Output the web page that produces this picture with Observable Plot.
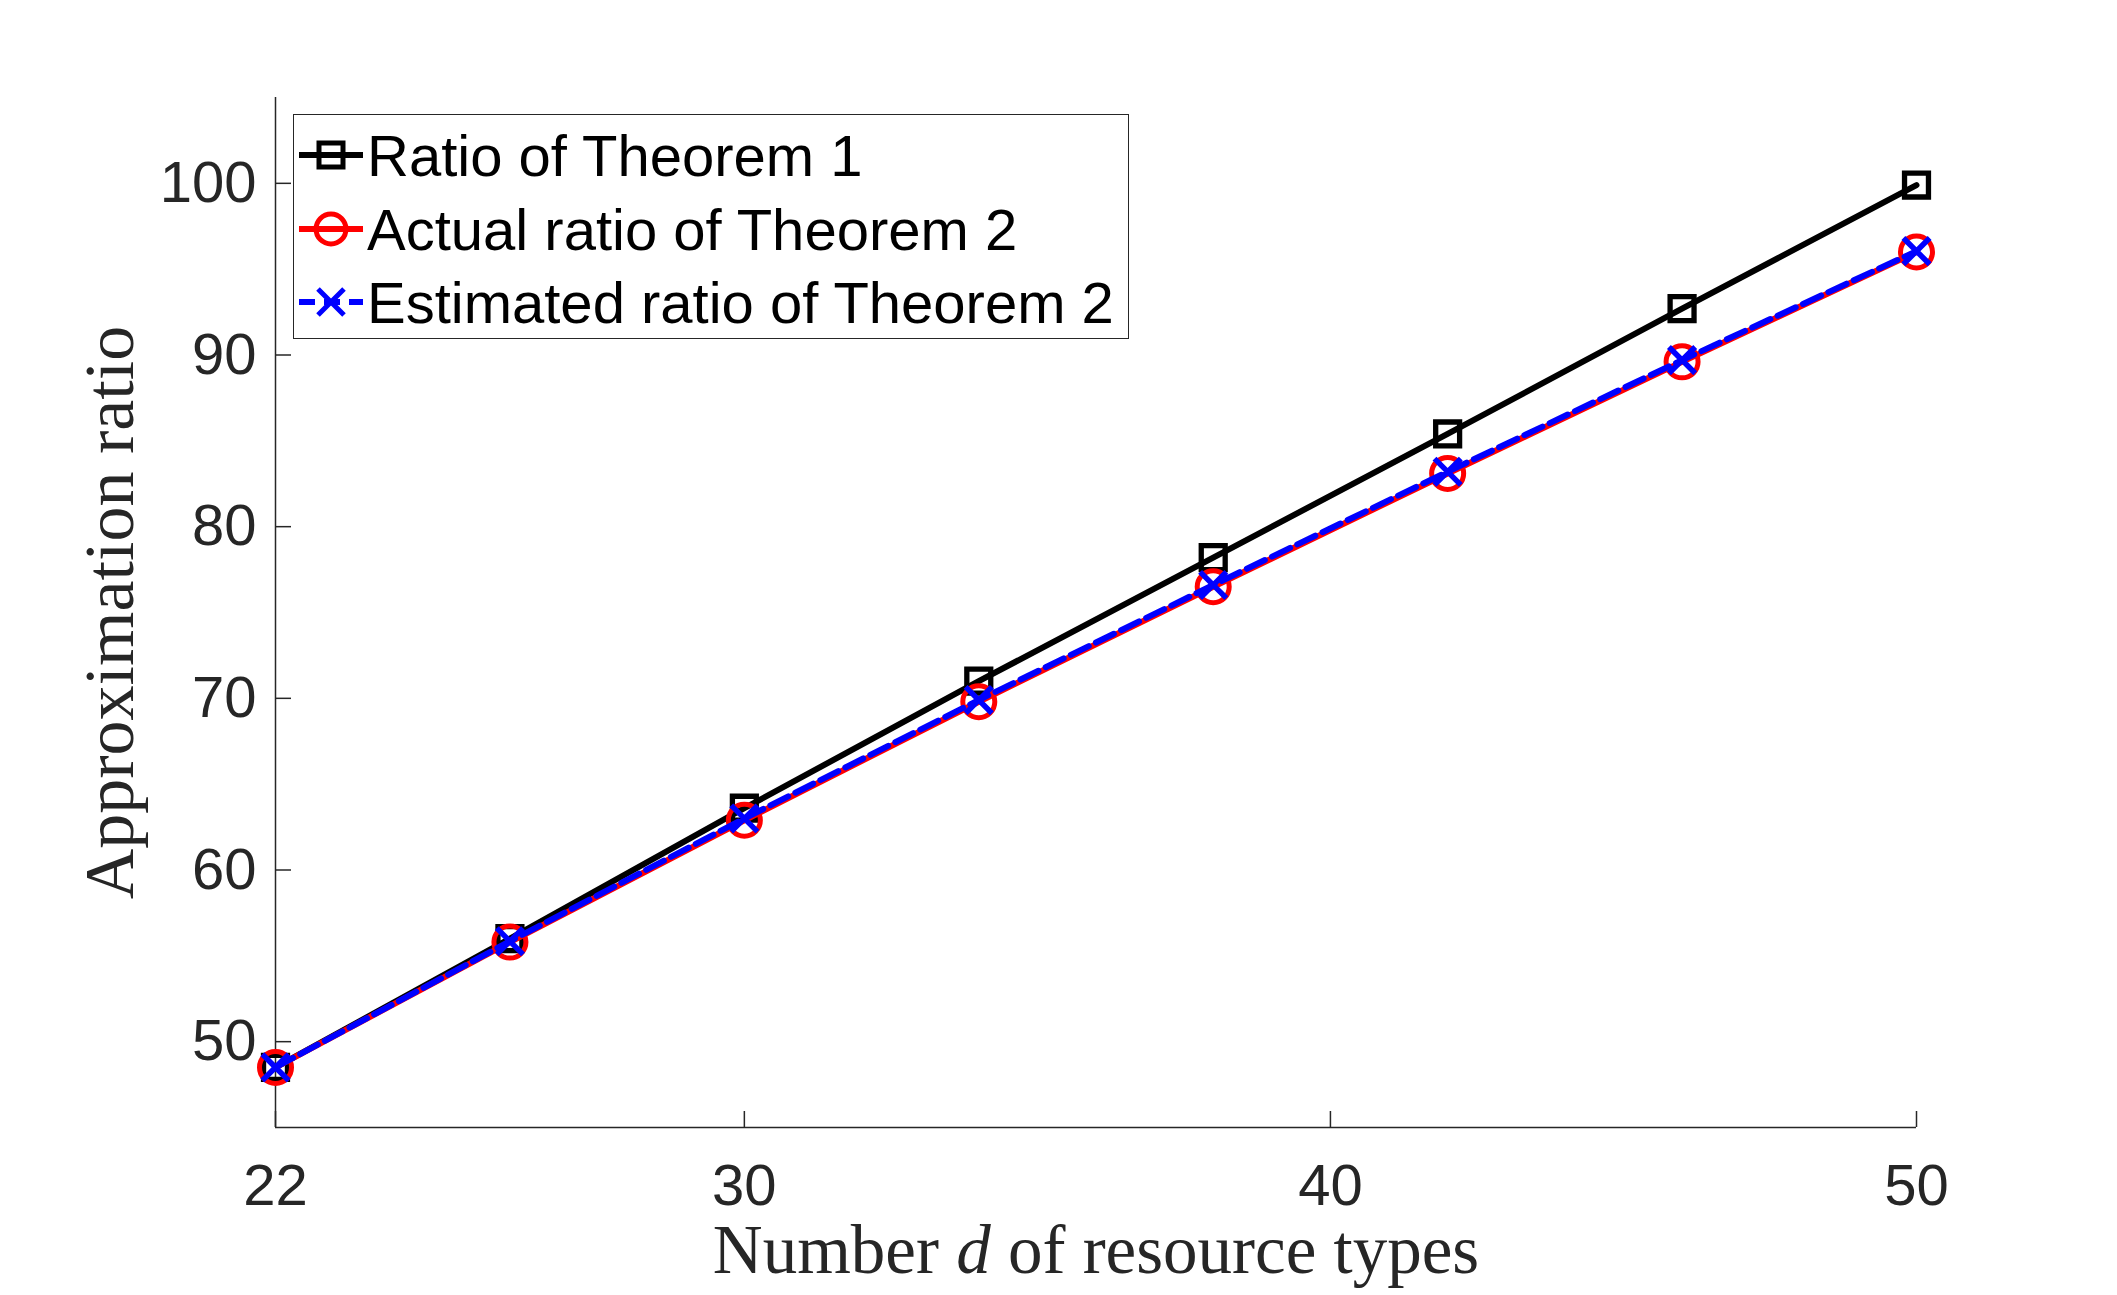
<!DOCTYPE html>
<html>
<head>
<meta charset="utf-8">
<script src="https://cdn.jsdelivr.net/npm/d3@7"></script>
<script src="https://cdn.jsdelivr.net/npm/@observablehq/plot@0.6"></script>
<style>
  html, body { margin: 0; padding: 0; background: #fff; }
  #wrap { position: relative; width: 2117px; height: 1295px; }
  #legend {
    position: absolute; left: 293px; top: 114px; width: 834px; height: 223px;
    border: 1.5px solid #262626; background: #fff; box-sizing: content-box;
    font-family: "Liberation Sans", Arial, sans-serif; font-size: 58px; color: #000;
  }
  .item { position: absolute; left: 5px; height: 60px; display: flex; align-items: center; white-space: nowrap; }
  .item svg { flex: none; margin-right: 4px; }
</style>
</head>
<body>
<div id="wrap"></div>
<script>
// ---- data ----
const d = [22, 26, 30, 34, 38, 42, 46, 50];
const ratioTheorem1 = [48.5, 56.0, 63.6, 71.0, 78.2, 85.4, 92.7, 99.9];
const actualTheorem2 = [48.5, 55.8, 62.9, 69.8, 76.5, 83.1, 89.6, 96.0];
const estimatedTheorem2 = [48.5, 55.85, 63.0, 69.9, 76.6, 83.2, 89.7, 96.05];
const seriesNames = ["Ratio of Theorem 1", "Actual ratio of Theorem 2", "Estimated ratio of Theorem 2"];
const seriesColors = ["#000000", "#ff0000", "#0000ff"];
const xTicks = [22, 30, 40, 50];
const yTicks = [50, 60, 70, 80, 90, 100];
const xDomain = [22, 50];
const yDomain = [45, 105];
const xLabel = "Number d of resource types";
const yLabel = "Approximation ratio";

const s1 = d.map((x, i) => ({x, y: ratioTheorem1[i]}));
const s2 = d.map((x, i) => ({x, y: actualTheorem2[i]}));
const s3 = d.map((x, i) => ({x, y: estimatedTheorem2[i]}));

const W = 2117, H = 1295, mL = 275, mR = 201, mT = 97, mB = 168;
const plotW = W - mL - mR, plotH = H - mT - mB;
const axisColor = "#262626";
const sans = "'Liberation Sans', Arial, sans-serif";
const serif = "'Liberation Serif', 'Times New Roman', serif";

const chart = Plot.plot({
  width: W, height: H,
  marginLeft: mL, marginRight: mR, marginTop: mT, marginBottom: mB,
  style: {fontFamily: sans, color: axisColor, background: "#fff"},
  x: {domain: xDomain},
  y: {domain: yDomain},
  marks: [
    Plot.ruleX([xDomain[0]], {stroke: axisColor, strokeWidth: 1.5}),
    Plot.ruleY([yDomain[0]], {stroke: axisColor, strokeWidth: 1.5}),
    Plot.tickX(xTicks, {x: v => v, stroke: axisColor, strokeWidth: 1.5, insetTop: plotH - 16}),
    Plot.tickY(yTicks, {y: v => v, stroke: axisColor, strokeWidth: 1.5, insetRight: plotW - 16}),
    Plot.axisX({ticks: xTicks, tickSize: 0, tickPadding: 36, fontSize: 58, label: null, tickFormat: v => String(v)}),
    Plot.axisY({ticks: yTicks, tickSize: 0, tickPadding: 19, fontSize: 58, label: null, tickFormat: v => String(v)}),
    Plot.text([xLabel], {text: v => v, frameAnchor: "bottom", dy: 145, lineAnchor: "bottom", textAnchor: "middle", fontSize: 69, fontFamily: serif, fill: axisColor}),
    Plot.text([yLabel], {text: v => v, frameAnchor: "left", dx: -143, rotate: -90, lineAnchor: "bottom", textAnchor: "middle", fontSize: 70, fontFamily: serif, fill: axisColor}),
    // series 1
    Plot.line(s1, {x: "x", y: "y", stroke: seriesColors[0], strokeWidth: 6}),
    Plot.dot(s1, {x: "x", y: "y", symbol: "square", r: 13.5, stroke: seriesColors[0], strokeWidth: 5.3, fill: "none"}),
    // series 2
    Plot.line(s2, {x: "x", y: "y", stroke: seriesColors[1], strokeWidth: 6}),
    Plot.dot(s2, {x: "x", y: "y", symbol: "circle", r: 16, stroke: seriesColors[1], strokeWidth: 5, fill: "none"}),
    // series 3
    Plot.line(s3, {x: "x", y: "y", stroke: seriesColors[2], strokeWidth: 6, strokeDasharray: "20,8"}),
    Plot.dot(s3, {x: "x", y: "y", symbol: "times", r: 12, stroke: seriesColors[2], strokeWidth: 5.5})
  ]
});

// italic "d" in the x label
d3.select(chart).selectAll("text").filter(function() { return this.textContent === xLabel; })
  .each(function() {
    const t = d3.select(this);
    const parts = xLabel.split(" d ");
    t.text(null);
    t.append("tspan").text(parts[0] + " ");
    t.append("tspan").attr("font-style", "italic").text("d");
    t.append("tspan").text(" " + parts[1]);
  });

const wrap = document.getElementById("wrap");
wrap.appendChild(chart);

// legend
const legend = document.createElement("div");
legend.id = "legend";
const symbols = ["square", "circle", "times"];
const rowTops = [10, 84, 157];
seriesNames.forEach((name, i) => {
  const item = document.createElement("div");
  item.className = "item";
  item.style.top = rowTops[i] + "px";
  const ns = "http://www.w3.org/2000/svg";
  const sw = document.createElementNS(ns, "svg");
  sw.setAttribute("width", 64); sw.setAttribute("height", 60);
  const ln = document.createElementNS(ns, "line");
  ln.setAttribute("x1", 0); ln.setAttribute("x2", 64); ln.setAttribute("y1", 30); ln.setAttribute("y2", 30);
  ln.setAttribute("stroke", seriesColors[i]); ln.setAttribute("stroke-width", 6);
  if (i === 2) ln.setAttribute("stroke-dasharray", "16,9");
  sw.appendChild(ln);
  let m;
  if (symbols[i] === "square") {
    m = document.createElementNS(ns, "rect");
    m.setAttribute("x", 20); m.setAttribute("y", 18); m.setAttribute("width", 24); m.setAttribute("height", 24);
  } else if (symbols[i] === "circle") {
    m = document.createElementNS(ns, "circle");
    m.setAttribute("cx", 32); m.setAttribute("cy", 30); m.setAttribute("r", 15);
  } else {
    m = document.createElementNS(ns, "path");
    m.setAttribute("d", "M19,17L45,43M45,17L19,43");
  }
  m.setAttribute("fill", "none"); m.setAttribute("stroke", seriesColors[i]); m.setAttribute("stroke-width", 5);
  sw.appendChild(m);
  item.appendChild(sw);
  const tx = document.createElement("span");
  tx.textContent = name;
  item.appendChild(tx);
  legend.appendChild(item);
});
wrap.appendChild(legend);
</script>
</body>
</html>
